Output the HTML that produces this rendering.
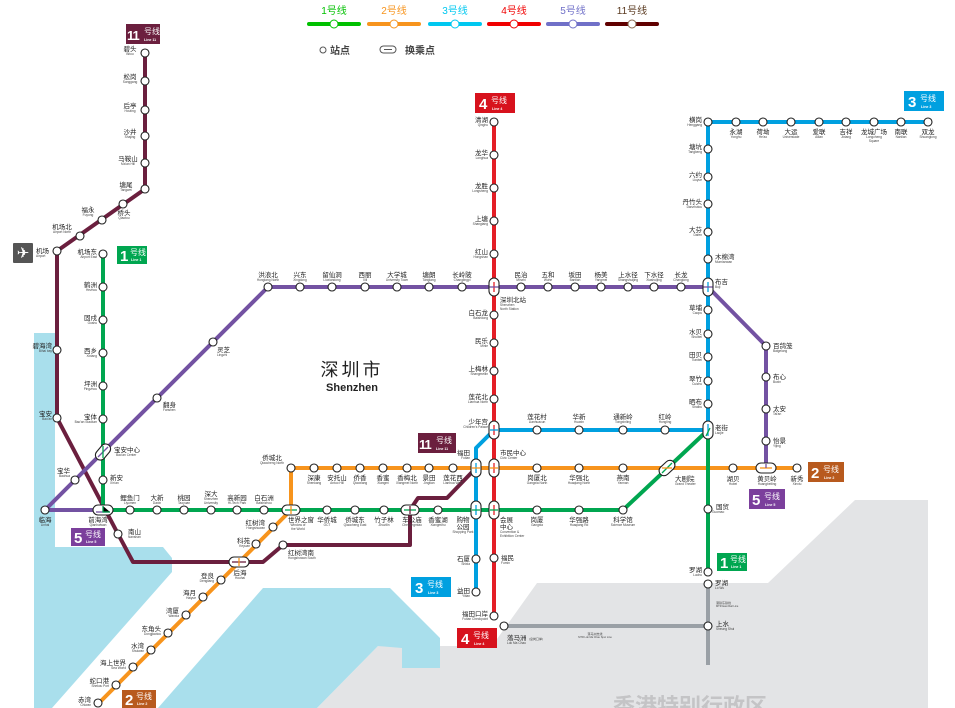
<!DOCTYPE html>
<html><head><meta charset="utf-8"><style>
html,body{margin:0;padding:0;background:#fff;}
svg{display:block;}
text{font-family:"Liberation Sans","Noto Sans CJK SC",sans-serif;}
.c{font-size:6.5px;fill:#222;}
.e{font-size:3.2px;fill:#444;}
.s{fill:#fff;stroke:#222;stroke-width:1.1;}
.p{fill:#fff;stroke:#222;stroke-width:1.1;}
.bn{font-size:15px;font-weight:bold;fill:#fff;}
.bn2{font-size:13px;font-weight:bold;fill:#fff;letter-spacing:-1px;}
.bc{font-size:8px;fill:#fff;}
.be{font-size:3.6px;fill:#fff;font-weight:bold;}
</style></head><body>
<svg width="955" height="708" viewBox="0 0 955 708" xmlns="http://www.w3.org/2000/svg">
<polygon points="317,708 378,646 492,646 537,583 768,583 855,500 928,500 928,708" fill="#e3e4e6"/>
<polygon points="34,333 55,333 55,547 163,547 172,558 172,572 52,708 34,708" fill="#a9dfec"/>
<polygon points="263,588 390,588 440,638 440,668 402,668 402,648 378,646 317,708 158,708" fill="#a9dfec"/>
<text x="690" y="714" font-size="22" fill="#c4c4c6" text-anchor="middle" font-weight="bold">香港特别行政区</text>

<g stroke-width="4" stroke-linecap="round">
<line x1="309" y1="24" x2="359" y2="24" stroke="#00c000"/>
<line x1="369" y1="24" x2="419" y2="24" stroke="#f7941d"/>
<line x1="430" y1="24" x2="480" y2="24" stroke="#00c8f0"/>
<line x1="489" y1="24" x2="539" y2="24" stroke="#f00000"/>
<line x1="548" y1="24" x2="598" y2="24" stroke="#7070c8"/>
<line x1="607" y1="24" x2="657" y2="24" stroke="#600000"/>
</g>
<g fill="#fff" stroke-width="1">
<circle cx="334" cy="24" r="4" stroke="#00c000"/><circle cx="394" cy="24" r="4" stroke="#f7941d"/>
<circle cx="455" cy="24" r="4" stroke="#00c8f0"/><circle cx="514" cy="24" r="4" stroke="#f00000"/>
<circle cx="573" cy="24" r="4" stroke="#7070c8"/><circle cx="632" cy="24" r="4" stroke="#8a6a50"/>
</g>
<g font-size="10" text-anchor="middle">
<text x="334" y="14" fill="#00c000">1号线</text><text x="394" y="14" fill="#f7941d">2号线</text>
<text x="455" y="14" fill="#00c8f0">3号线</text><text x="514" y="14" fill="#f00000">4号线</text>
<text x="573" y="14" fill="#7070c8">5号线</text><text x="632" y="14" fill="#5a3a20">11号线</text>
</g>
<circle cx="323" cy="50" r="3" fill="#fff" stroke="#555"/>
<text x="330" y="54" font-size="10" font-weight="bold" fill="#444">站点</text>
<rect x="380" y="46" width="16" height="7" rx="3.5" fill="#fff" stroke="#555"/>
<line x1="384" y1="49.5" x2="392" y2="49.5" stroke="#555"/>
<text x="405" y="54" font-size="10" font-weight="bold" fill="#444">换乘点</text>

<text x="352" y="376" font-size="18" text-anchor="middle" fill="#222" letter-spacing="3">深圳市</text>
<text x="352" y="391" font-size="11" text-anchor="middle" font-weight="bold" fill="#222">Shenzhen</text>

<rect x="13" y="243" width="20" height="20" rx="1" fill="#555"/>
<text x="23" y="258" font-size="15" fill="#fff" text-anchor="middle">✈</text>

<g fill="none" stroke-width="4" stroke-linejoin="round">
<path d="M708,585 V665" stroke="#9aa0a6"/>
<path d="M504,626 H708" stroke="#9aa0a6"/>
<path d="M145,53 V189 L57,251 V418 L118,534 L133,562 H263 L283,545 H410 V510 L418,498 H447 L476,468" stroke="#6b1f3e"/>
<path d="M98,704 L291,510 V468 H797" stroke="#f7941d"/>
<path d="M103,254 V510 H623 L708,430 V572" stroke="#00a650"/>
<path d="M928,122 H708 V430 H494 L476,448 V592" stroke="#00a0e0"/>
<path d="M494,122 V616" stroke="#e41e26"/>
<path d="M45,510 H103 M45,510 L268,287 H708 L766,346 V468" stroke="#7352a2"/>
</g>

<g class="s">
<circle cx="145" cy="53" r="4"/><circle cx="145" cy="81" r="4"/><circle cx="145" cy="110" r="4"/><circle cx="145" cy="136" r="4"/><circle cx="145" cy="163" r="4"/><circle cx="145" cy="189" r="4"/>
<circle cx="123" cy="204" r="4"/><circle cx="102" cy="220" r="4"/><circle cx="80" cy="236" r="4"/><circle cx="57" cy="251" r="4"/><circle cx="57" cy="350" r="4"/><circle cx="57" cy="418" r="4"/><circle cx="118" cy="534" r="4"/><circle cx="283" cy="545" r="4"/>
<circle cx="103" cy="254" r="4"/><circle cx="103" cy="287" r="4"/><circle cx="103" cy="320" r="4"/><circle cx="103" cy="353" r="4"/><circle cx="103" cy="386" r="4"/><circle cx="103" cy="419" r="4"/><circle cx="103" cy="480" r="4"/>
<circle cx="130" cy="510" r="4"/><circle cx="157" cy="510" r="4"/><circle cx="184" cy="510" r="4"/><circle cx="211" cy="510" r="4"/><circle cx="237" cy="510" r="4"/><circle cx="264" cy="510" r="4"/>
<circle cx="327" cy="510" r="4"/><circle cx="355" cy="510" r="4"/><circle cx="384" cy="510" r="4"/><circle cx="438" cy="510" r="4"/><circle cx="537" cy="510" r="4"/><circle cx="579" cy="510" r="4"/><circle cx="623" cy="510" r="4"/>
<circle cx="708" cy="509" r="4"/><circle cx="708" cy="572" r="4"/>
<circle cx="98" cy="703" r="4"/><circle cx="116" cy="685" r="4"/><circle cx="133" cy="667" r="4"/><circle cx="151" cy="650" r="4"/><circle cx="168" cy="633" r="4"/><circle cx="186" cy="615" r="4"/><circle cx="203" cy="597" r="4"/><circle cx="221" cy="580" r="4"/><circle cx="256" cy="544" r="4"/><circle cx="273" cy="527" r="4"/>
<circle cx="291" cy="468" r="4"/><circle cx="314" cy="468" r="4"/><circle cx="337" cy="468" r="4"/><circle cx="360" cy="468" r="4"/><circle cx="383" cy="468" r="4"/><circle cx="407" cy="468" r="4"/><circle cx="429" cy="468" r="4"/><circle cx="453" cy="468" r="4"/>
<circle cx="537" cy="468" r="4"/><circle cx="579" cy="468" r="4"/><circle cx="623" cy="468" r="4"/><circle cx="733" cy="468" r="4"/><circle cx="797" cy="468" r="4"/>
<circle cx="708" cy="122" r="4"/><circle cx="736" cy="122" r="4"/><circle cx="763" cy="122" r="4"/><circle cx="791" cy="122" r="4"/><circle cx="819" cy="122" r="4"/><circle cx="846" cy="122" r="4"/><circle cx="874" cy="122" r="4"/><circle cx="901" cy="122" r="4"/><circle cx="928" cy="122" r="4"/>
<circle cx="708" cy="149" r="4"/><circle cx="708" cy="177" r="4"/><circle cx="708" cy="204" r="4"/><circle cx="708" cy="232" r="4"/><circle cx="708" cy="259" r="4"/>
<circle cx="708" cy="310" r="4"/><circle cx="708" cy="334" r="4"/><circle cx="708" cy="357" r="4"/><circle cx="708" cy="381" r="4"/><circle cx="708" cy="404" r="4"/>
<circle cx="537" cy="430" r="4"/><circle cx="579" cy="430" r="4"/><circle cx="623" cy="430" r="4"/><circle cx="665" cy="430" r="4"/>
<circle cx="476" cy="559" r="4"/><circle cx="476" cy="592" r="4"/>
<circle cx="494" cy="122" r="4"/><circle cx="494" cy="155" r="4"/><circle cx="494" cy="188" r="4"/><circle cx="494" cy="221" r="4"/><circle cx="494" cy="254" r="4"/>
<circle cx="494" cy="315" r="4"/><circle cx="494" cy="343" r="4"/><circle cx="494" cy="371" r="4"/><circle cx="494" cy="399" r="4"/><circle cx="494" cy="558" r="4"/><circle cx="494" cy="616" r="4"/>
<circle cx="504" cy="626" r="4"/><circle cx="708" cy="626" r="4"/><circle cx="708" cy="584" r="4"/>
<circle cx="45" cy="510" r="4"/><circle cx="75" cy="480" r="4"/><circle cx="157" cy="398" r="4"/><circle cx="213" cy="342" r="4"/>
<circle cx="268" cy="287" r="4"/><circle cx="300" cy="287" r="4"/><circle cx="332" cy="287" r="4"/><circle cx="365" cy="287" r="4"/><circle cx="397" cy="287" r="4"/><circle cx="429" cy="287" r="4"/><circle cx="462" cy="287" r="4"/>
<circle cx="521" cy="287" r="4"/><circle cx="548" cy="287" r="4"/><circle cx="575" cy="287" r="4"/><circle cx="601" cy="287" r="4"/><circle cx="628" cy="287" r="4"/><circle cx="654" cy="287" r="4"/><circle cx="681" cy="287" r="4"/>
<circle cx="766" cy="346" r="4"/><circle cx="766" cy="377" r="4"/><circle cx="766" cy="409" r="4"/><circle cx="766" cy="441" r="4"/>
</g>

<g class="p">
<rect x="489" y="278" width="10" height="18" rx="5"/>
<rect x="703" y="278" width="10" height="18" rx="5"/>
<rect x="703" y="421" width="10" height="18" rx="5"/>
<rect x="489" y="421" width="10" height="18" rx="5"/>
<rect x="489" y="459" width="10" height="18" rx="5"/>
<rect x="489" y="501" width="10" height="18" rx="5"/>
<rect x="471" y="459" width="10" height="18" rx="5"/>
<rect x="471" y="501" width="10" height="18" rx="5"/>
<rect x="282" y="505" width="18" height="10" rx="5"/>
<rect x="401" y="505" width="18" height="10" rx="5"/>
<rect x="93" y="505" width="20" height="10" rx="5"/>
<rect x="229" y="557" width="20" height="10" rx="5"/>
<rect x="756" y="463" width="20" height="10" rx="5"/>
<rect x="94" y="447" width="18" height="10" rx="5" transform="rotate(-50 103 452)"/>
<rect x="658" y="463" width="18" height="10" rx="5" transform="rotate(-43 667 468)"/>
</g>
<g stroke-width="1.3">
<path d="M494,282v10" stroke="#e41e26"/><path d="M489.5,287h9" stroke="#7352a2"/>
<path d="M708,282v10" stroke="#00a0e0"/><path d="M703.5,287h9" stroke="#7352a2"/>
<path d="M708,424v12" stroke="#00a0e0"/><path d="M706,436l4,-8" stroke="#00a650"/>
<path d="M494,425v10" stroke="#e41e26"/><path d="M490,430h8" stroke="#00a0e0"/>
<path d="M494,463v10" stroke="#e41e26"/><path d="M490,468h8" stroke="#f7941d"/>
<path d="M494,505v10" stroke="#e41e26"/><path d="M490,510h8" stroke="#00a650"/>
<path d="M476,463v10" stroke="#00a0e0"/><path d="M472,468h8" stroke="#f7941d"/>
<path d="M476,505v10" stroke="#00a0e0"/><path d="M472,510h8" stroke="#00a650"/>
<path d="M285,510h12" stroke="#00a650"/><path d="M291,506v8" stroke="#f7941d"/>
<path d="M404,510h12" stroke="#00a650"/><path d="M410,506v8" stroke="#6b1f3e"/>
<path d="M96,512h14" stroke="#7352a2"/><path d="M103,506v6h7" stroke="#00a650"/>
<path d="M232,562h14" stroke="#6b1f3e"/><path d="M239,558v8" stroke="#f7941d"/>
<path d="M760,468h12" stroke="#f7941d"/><path d="M766,464v4" stroke="#7352a2"/>
<path d="M98,457l10,-10" stroke="#7352a2"/><path d="M103,446v12" stroke="#00a650"/>
<path d="M662,473l10,-10" stroke="#00a650"/><path d="M662,468h10" stroke="#f7941d"/>
</g>

<g>
<rect x="126" y="24" width="34" height="20" fill="#6b1f3e"/><text x="127" y="40" class="bn2">11</text><text x="144" y="34" class="bc">号线</text><text x="144" y="41" class="be">Line 11</text>
<rect x="117" y="246" width="30" height="18" fill="#00a650"/><text x="120" y="261" class="bn">1</text><text x="130" y="255" class="bc">号线</text><text x="131" y="261" class="be">Line 1</text>
<rect x="717" y="553" width="30" height="18" fill="#00a650"/><text x="720" y="568" class="bn">1</text><text x="730" y="562" class="bc">号线</text><text x="731" y="568" class="be">Line 1</text>
<rect x="475" y="93" width="40" height="20" fill="#d7121d"/><text x="479" y="109" class="bn">4</text><text x="491" y="103" class="bc">号线</text><text x="492" y="110" class="be">Line 4</text>
<rect x="457" y="628" width="40" height="20" fill="#d7121d"/><text x="461" y="644" class="bn">4</text><text x="473" y="638" class="bc">号线</text><text x="474" y="645" class="be">Line 4</text>
<rect x="904" y="91" width="40" height="20" fill="#00a0e0"/><text x="908" y="107" class="bn">3</text><text x="920" y="101" class="bc">号线</text><text x="921" y="108" class="be">Line 3</text>
<rect x="411" y="577" width="40" height="20" fill="#00a0e0"/><text x="415" y="593" class="bn">3</text><text x="427" y="587" class="bc">号线</text><text x="428" y="594" class="be">Line 3</text>
<rect x="418" y="433" width="38" height="20" fill="#6b1f3e"/><text x="419" y="449" class="bn2">11</text><text x="436" y="443" class="bc">号线</text><text x="436" y="450" class="be">Line 11</text>
<rect x="808" y="462" width="36" height="20" fill="#b85a1e"/><text x="811" y="478" class="bn">2</text><text x="823" y="472" class="bc">号线</text><text x="824" y="479" class="be">Line 2</text>
<rect x="122" y="690" width="34" height="18" fill="#b85a1e"/><text x="125" y="705" class="bn">2</text><text x="136" y="699" class="bc">号线</text><text x="137" y="705" class="be">Line 2</text>
<rect x="749" y="489" width="36" height="20" fill="#7b3f9c"/><text x="752" y="505" class="bn">5</text><text x="764" y="499" class="bc">号线</text><text x="765" y="506" class="be">Line 5</text>
<rect x="71" y="528" width="34" height="18" fill="#7b3f9c"/><text x="74" y="543" class="bn">5</text><text x="85" y="537" class="bc">号线</text><text x="86" y="543" class="be">Line 5</text>
</g>

<g text-anchor="middle">
<text x="130" y="51" class="c">碧头</text><text x="130" y="55" class="e">Bitou</text>
<text x="130" y="79" class="c">松岗</text><text x="130" y="83" class="e">Songgang</text>
<text x="130" y="108" class="c">后亭</text><text x="130" y="112" class="e">Houting</text>
<text x="130" y="134" class="c">沙井</text><text x="130" y="138" class="e">Shajing</text>
<text x="128" y="161" class="c">马鞍山</text><text x="128" y="165" class="e">Ma'an Hill</text>
<text x="126" y="187" class="c">塘尾</text><text x="126" y="191" class="e">Tangwei</text>
<text x="124" y="215" class="c">桥头</text><text x="124" y="219" class="e">Qiaotou</text>
<text x="88" y="212" class="c">福永</text><text x="88" y="216" class="e">Fuyong</text>
<text x="62" y="229" class="c">机场北</text><text x="62" y="233" class="e">Airport North</text>
</g>
<text x="36" y="253" class="c">机场</text><text x="36" y="257" class="e">Airport</text>
<g text-anchor="end">
<text x="52" y="348" class="c">碧海湾</text><text x="52" y="352" class="e">Bihai bay</text>
<text x="52" y="416" class="c">宝安</text><text x="52" y="420" class="e">Bao'an</text>
<text x="97" y="254" class="c">机场东</text><text x="97" y="258" class="e">Airport East</text>
<text x="97" y="287" class="c">鹤洲</text><text x="97" y="291" class="e">Hezhou</text>
<text x="97" y="320" class="c">固戍</text><text x="97" y="324" class="e">Gushu</text>
<text x="97" y="353" class="c">西乡</text><text x="97" y="357" class="e">Xixiang</text>
<text x="97" y="386" class="c">坪洲</text><text x="97" y="390" class="e">Pingzhou</text>
<text x="97" y="419" class="c">宝体</text><text x="97" y="423" class="e">Bao'an Stadium</text>
<text x="70" y="473" class="c">宝华</text><text x="70" y="477" class="e">Baohua</text>
</g>
<text x="114" y="452" class="c">宝安中心</text><text x="116" y="456" class="e">Bao'an Center</text>
<text x="110" y="480" class="c">新安</text><text x="110" y="484" class="e">Xin'an</text>
<text x="128" y="534" class="c">南山</text><text x="128" y="538" class="e">Nanshan</text>
<g text-anchor="middle">
<text x="45" y="522" class="c">临海</text><text x="45" y="526" class="e">Linhai</text>
<text x="98" y="522" class="c">前海湾</text><text x="98" y="526" class="e">Qianhaiwan</text>
<text x="130" y="500" class="c">鲤鱼门</text><text x="130" y="504" class="e">Liyumen</text>
<text x="157" y="500" class="c">大新</text><text x="157" y="504" class="e">Daxin</text>
<text x="184" y="500" class="c">桃园</text><text x="184" y="504" class="e">Taoyuan</text>
<text x="211" y="496" class="c">深大</text><text x="211" y="500" class="e">Shenzhen</text><text x="211" y="504" class="e">University</text>
<text x="237" y="500" class="c">高新园</text><text x="237" y="504" class="e">Hi-Tech Park</text>
<text x="264" y="500" class="c">白石洲</text><text x="264" y="504" class="e">Baishizhou</text>
<text x="301" y="522" class="c">世界之窗</text><text x="298" y="526" class="e">Window of</text><text x="298" y="530" class="e">the World</text>
<text x="327" y="522" class="c">华侨城</text><text x="327" y="526" class="e">OCT</text>
<text x="355" y="522" class="c">侨城东</text><text x="355" y="526" class="e">Qiaocheng East</text>
<text x="384" y="522" class="c">竹子林</text><text x="384" y="526" class="e">Zhuzilin</text>
<text x="412" y="522" class="c">车公庙</text><text x="412" y="526" class="e">Chegongmiao</text>
<text x="438" y="522" class="c">香蜜湖</text><text x="438" y="526" class="e">Xiangmihu</text>
<text x="463" y="522" class="c">购物</text><text x="463" y="529" class="c">公园</text><text x="463" y="533" class="e">Shopping Park</text>
<text x="537" y="522" class="c">岗厦</text><text x="537" y="526" class="e">Gangxia</text>
<text x="579" y="522" class="c">华强路</text><text x="579" y="526" class="e">Huaqiang Rd</text>
<text x="623" y="522" class="c">科学馆</text><text x="623" y="526" class="e">Science Museum</text>
<text x="272" y="460" class="c">侨城北</text><text x="272" y="464" class="e">Qiaocheng North</text>
<text x="314" y="480" class="c">深康</text><text x="314" y="484" class="e">Shenkang</text>
<text x="337" y="480" class="c">安托山</text><text x="337" y="484" class="e">Antuo Hill</text>
<text x="360" y="480" class="c">侨香</text><text x="360" y="484" class="e">Qiaoxiang</text>
<text x="383" y="480" class="c">香蜜</text><text x="383" y="484" class="e">Xiangmi</text>
<text x="407" y="480" class="c">香梅北</text><text x="407" y="484" class="e">Xiangmei North</text>
<text x="429" y="480" class="c">景田</text><text x="429" y="484" class="e">Jingtian</text>
<text x="453" y="480" class="c">莲花西</text><text x="453" y="484" class="e">Lianhua West</text>
<text x="537" y="480" class="c">岗厦北</text><text x="537" y="484" class="e">Gangxia North</text>
<text x="579" y="480" class="c">华强北</text><text x="579" y="484" class="e">Huaqiang North</text>
<text x="623" y="480" class="c">燕南</text><text x="623" y="484" class="e">Yannan</text>
<text x="733" y="481" class="c">湖贝</text><text x="733" y="485" class="e">Hubei</text>
<text x="767" y="481" class="c">黄贝岭</text><text x="767" y="485" class="e">Huangbeiling</text>
<text x="797" y="481" class="c">新秀</text><text x="797" y="485" class="e">Xinxiu</text>
<text x="240" y="575" class="c">后海</text><text x="240" y="579" class="e">Houhai</text>
</g>
<text x="675" y="481" class="c">大剧院</text><text x="675" y="485" class="e">Grand Theater</text>
<text x="288" y="555" class="c">红树湾南</text><text x="288" y="559" class="e">Hongshuwan South</text>
<g text-anchor="end">
<text x="265" y="525" class="c">红树湾</text><text x="265" y="529" class="e">Hongshuwan</text>
<text x="250" y="543" class="c">科苑</text><text x="250" y="547" class="e">Keyuan</text>
<text x="214" y="578" class="c">登良</text><text x="214" y="582" class="e">Dengliang</text>
<text x="196" y="595" class="c">海月</text><text x="196" y="599" class="e">Haiyue</text>
<text x="179" y="613" class="c">湾厦</text><text x="179" y="617" class="e">Wanxia</text>
<text x="161" y="631" class="c">东角头</text><text x="161" y="635" class="e">Dongjiaotou</text>
<text x="144" y="648" class="c">水湾</text><text x="144" y="652" class="e">Shuiwan</text>
<text x="126" y="665" class="c">海上世界</text><text x="126" y="669" class="e">Sea World</text>
<text x="109" y="683" class="c">蛇口港</text><text x="109" y="687" class="e">Shekou Port</text>
<text x="91" y="702" class="c">赤湾</text><text x="91" y="706" class="e">Chiwan</text>
<text x="488" y="122" class="c">清湖</text><text x="488" y="126" class="e">Qinghu</text>
<text x="488" y="155" class="c">龙华</text><text x="488" y="159" class="e">Longhua</text>
<text x="488" y="188" class="c">龙胜</text><text x="488" y="192" class="e">Longsheng</text>
<text x="488" y="221" class="c">上塘</text><text x="488" y="225" class="e">Shangtang</text>
<text x="488" y="254" class="c">红山</text><text x="488" y="258" class="e">Hongshan</text>
<text x="488" y="315" class="c">白石龙</text><text x="488" y="319" class="e">Baishilong</text>
<text x="488" y="343" class="c">民乐</text><text x="488" y="347" class="e">Minle</text>
<text x="488" y="371" class="c">上梅林</text><text x="488" y="375" class="e">Shangmeilin</text>
<text x="488" y="399" class="c">莲花北</text><text x="488" y="403" class="e">Lianhua North</text>
<text x="488" y="424" class="c">少年宫</text><text x="488" y="428" class="e">Children's Palace</text>
<text x="470" y="455" class="c">福田</text><text x="470" y="459" class="e">Futian</text>
<text x="470" y="561" class="c">石厦</text><text x="470" y="565" class="e">Shixia</text>
<text x="470" y="593" class="c">益田</text><text x="470" y="597" class="e">Yitian</text>
<text x="488" y="616" class="c">福田口岸</text><text x="488" y="620" class="e">Futian Checkpoint</text>
<text x="702" y="122" class="c">横岗</text><text x="702" y="126" class="e">Henggang</text>
<text x="702" y="149" class="c">塘坑</text><text x="702" y="153" class="e">Tangkeng</text>
<text x="702" y="177" class="c">六约</text><text x="702" y="181" class="e">Liuyue</text>
<text x="702" y="204" class="c">丹竹头</text><text x="702" y="208" class="e">Danzhutou</text>
<text x="702" y="232" class="c">大芬</text><text x="702" y="236" class="e">Dafen</text>
<text x="702" y="310" class="c">草埔</text><text x="702" y="314" class="e">Caopu</text>
<text x="702" y="334" class="c">水贝</text><text x="702" y="338" class="e">Shuibei</text>
<text x="702" y="357" class="c">田贝</text><text x="702" y="361" class="e">Tianbei</text>
<text x="702" y="381" class="c">翠竹</text><text x="702" y="385" class="e">Cuizhu</text>
<text x="702" y="404" class="c">晒布</text><text x="702" y="408" class="e">Shaibu</text>
<text x="702" y="572" class="c">罗湖</text><text x="702" y="576" class="e">Luohu</text>
</g>
<text x="500" y="302" class="c">深圳北站</text><text x="500" y="306" class="e">Shenzhen</text><text x="500" y="310" class="e">North Station</text>
<text x="500" y="455" class="c">市民中心</text><text x="500" y="459" class="e">Civic Center</text>
<text x="500" y="522" class="c">会展</text><text x="500" y="529" class="c">中心</text><text x="500" y="533" class="e">Convention &amp;</text><text x="500" y="537" class="e">Exhibition Center</text>
<text x="501" y="560" class="c">福民</text><text x="501" y="564" class="e">Fumin</text>
<text x="507" y="640" class="c">落马洲</text><text x="529" y="640" font-size="3" fill="#444">(皇岗口岸)</text><text x="507" y="644" class="e">Lok Ma Chau</text>
<text x="595" y="635" font-size="3" fill="#444" text-anchor="middle">落马洲支线</text><text x="595" y="638" font-size="2.6" fill="#444" text-anchor="middle">MTR Lok Ma Chau Spur Line</text>
<text x="715" y="585" class="c">罗湖</text><text x="715" y="589" class="e">Lo Wu</text>
<text x="716" y="604" font-size="3" fill="#444">港铁东铁线</text><text x="716" y="607" font-size="2.6" fill="#444">MTR East Rail Line</text>
<text x="716" y="626" class="c">上水</text><text x="716" y="630" class="e">Sheung Shui</text>
<text x="716" y="509" class="c">国贸</text><text x="712" y="513" class="e">Guomao</text>
<text x="715" y="430" class="c">老街</text><text x="715" y="434" class="e">Laojie</text>
<text x="715" y="259" class="c">木棉湾</text><text x="715" y="263" class="e">Mumianwan</text>
<text x="715" y="284" class="c">布吉</text><text x="715" y="288" class="e">Buji</text>
<text x="773" y="348" class="c">百鸽笼</text><text x="773" y="352" class="e">Baigelong</text>
<text x="773" y="379" class="c">布心</text><text x="773" y="383" class="e">Buxin</text>
<text x="773" y="411" class="c">太安</text><text x="773" y="415" class="e">Tai'an</text>
<text x="773" y="443" class="c">怡景</text><text x="773" y="447" class="e">Yijing</text>
<text x="163" y="407" class="c">翻身</text><text x="163" y="411" class="e">Fanshen</text>
<text x="217" y="352" class="c">灵芝</text><text x="217" y="356" class="e">Lingzhi</text>
<g text-anchor="middle">
<text x="736" y="134" class="c">永湖</text><text x="736" y="138" class="e">Yonghu</text>
<text x="763" y="134" class="c">荷坳</text><text x="763" y="138" class="e">He'ao</text>
<text x="791" y="134" class="c">大运</text><text x="791" y="138" class="e">Universiade</text>
<text x="819" y="134" class="c">爱联</text><text x="819" y="138" class="e">Ailian</text>
<text x="846" y="134" class="c">吉祥</text><text x="846" y="138" class="e">Jixiang</text>
<text x="874" y="134" class="c">龙城广场</text><text x="874" y="138" class="e">Longcheng</text><text x="874" y="142" class="e">Square</text>
<text x="901" y="134" class="c">南联</text><text x="901" y="138" class="e">Nanlian</text>
<text x="928" y="134" class="c">双龙</text><text x="928" y="138" class="e">Shuanglong</text>
<text x="537" y="419" class="c">莲花村</text><text x="537" y="423" class="e">Lianhuacun</text>
<text x="579" y="419" class="c">华新</text><text x="579" y="423" class="e">Huaxin</text>
<text x="623" y="419" class="c">通新岭</text><text x="623" y="423" class="e">Tongxinling</text>
<text x="665" y="419" class="c">红岭</text><text x="665" y="423" class="e">Hongling</text>
<text x="268" y="277" class="c">洪浪北</text><text x="268" y="281" class="e">Honglang North</text>
<text x="300" y="277" class="c">兴东</text><text x="300" y="281" class="e">Xingdong</text>
<text x="332" y="277" class="c">留仙洞</text><text x="332" y="281" class="e">Liuxiandong</text>
<text x="365" y="277" class="c">西丽</text><text x="365" y="281" class="e">Xili</text>
<text x="397" y="277" class="c">大学城</text><text x="397" y="281" class="e">University Town</text>
<text x="429" y="277" class="c">塘朗</text><text x="429" y="281" class="e">Tanglang</text>
<text x="462" y="277" class="c">长岭陂</text><text x="462" y="281" class="e">Changlingpi</text>
<text x="521" y="277" class="c">民治</text><text x="521" y="281" class="e">Minzhi</text>
<text x="548" y="277" class="c">五和</text><text x="548" y="281" class="e">Wuhe</text>
<text x="575" y="277" class="c">坂田</text><text x="575" y="281" class="e">Bantian</text>
<text x="601" y="277" class="c">杨美</text><text x="601" y="281" class="e">Yangmei</text>
<text x="628" y="277" class="c">上水径</text><text x="628" y="281" class="e">Shangshuijing</text>
<text x="654" y="277" class="c">下水径</text><text x="654" y="281" class="e">Xiashuijing</text>
<text x="681" y="277" class="c">长龙</text><text x="681" y="281" class="e">Changlong</text>
</g>
</svg>
</body></html>
